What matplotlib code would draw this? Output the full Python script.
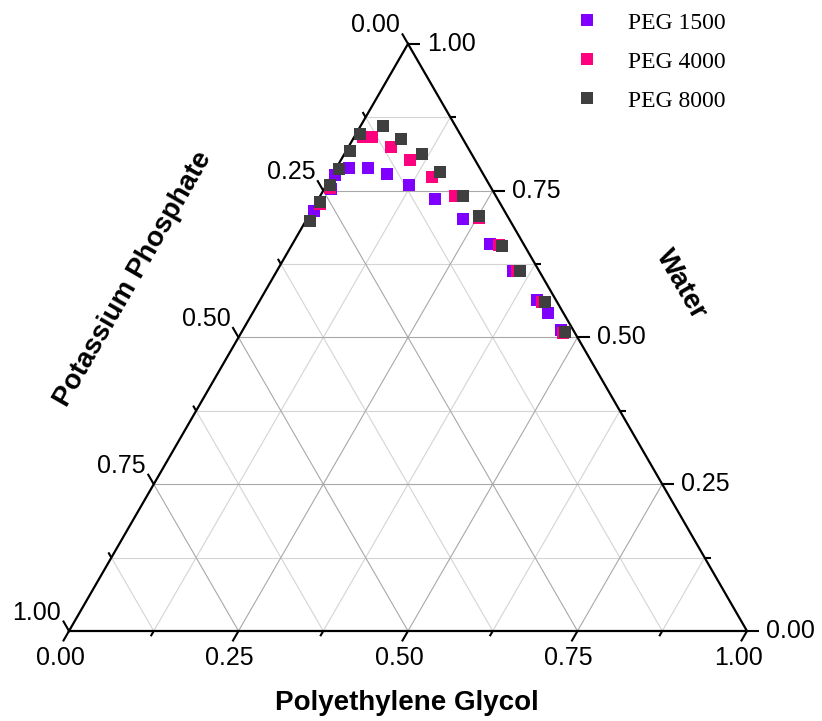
import numpy as np
import matplotlib
matplotlib.use("Agg")
import matplotlib.pyplot as plt
from matplotlib.lines import Line2D

# Binodal compositions (mass fractions).
# Potassium phosphate fraction is 1 - PEG - water.
peg1500_peg = [0.004, 0.010, 0.004, 0.019, 0.046, 0.079, 0.122, 0.173, 0.230, 0.292,
               0.348, 0.408, 0.436, 0.470]
peg1500_water = [0.716, 0.752, 0.777, 0.789, 0.789, 0.779, 0.759, 0.735, 0.701, 0.659,
                 0.613, 0.564, 0.541, 0.512]

peg4000_peg = [0.007, 0.008, 0.013, 0.027, 0.063, 0.102, 0.149, 0.199, 0.253, 0.306,
               0.354, 0.417, 0.475]
peg4000_water = [0.727, 0.755, 0.842, 0.841, 0.825, 0.802, 0.774, 0.740, 0.703, 0.657,
                 0.613, 0.561, 0.508]

peg8000_peg = [0.006, 0.005, 0.005, 0.005, 0.006, 0.006, 0.033, 0.070, 0.114, 0.157,
               0.211, 0.252, 0.311, 0.359, 0.422, 0.476]
peg8000_water = [0.698, 0.730, 0.759, 0.787, 0.817, 0.847, 0.860, 0.838, 0.812, 0.781,
                 0.741, 0.706, 0.656, 0.613, 0.560, 0.510]

series = [("PEG 1500", peg1500_peg, peg1500_water, "#8000ff"),
          ("PEG 4000", peg4000_peg, peg4000_water, "#ff007f"),
          ("PEG 8000", peg8000_peg, peg8000_water, "#3f3f3f")]

H = np.sqrt(3) / 2
PX = 678.0          # pixels per unit side length
SANS = "Liberation Sans"
SERIF = "Liberation Serif"


def tern(peg, water):
    """PEG on the base (left->right), water on the right edge (bottom->top)."""
    peg = np.asarray(peg, float); water = np.asarray(water, float)
    return peg + 0.5 * water, H * water


fig = plt.figure(figsize=(8.22, 7.21), dpi=100)
ax = fig.add_axes([0, 0, 1, 1])
ax.set_xlim(-69 / PX, (822 - 69) / PX)
ax.set_ylim(-(721 - 631) / PX, 631 / PX)
ax.axis("off")

# ---- grid --------------------------------------------------------------------------------
for k in range(1, 8):
    v = k / 8
    col, z = ("#a8a8a8", 1.2) if k % 2 == 0 else ("#d4d4d4", 1.0)
    kw = dict(color=col, lw=0.8, zorder=z)
    # constant PEG
    ax.plot([v, v + 0.5 * (1 - v)], [0, H * (1 - v)], **kw)
    # constant water
    ax.plot([0.5 * v, 1 - 0.5 * v], [H * v, H * v], **kw)
    # constant phosphate
    ax.plot([0.5 * (1 - v), 1 - v], [H * (1 - v), 0], **kw)

# ---- frame -------------------------------------------------------------------------------
ax.plot([0, 1, 0.5, 0], [0, 0, H, 0], color="black", lw=1.6, zorder=3,
        solid_joinstyle="miter")

# ---- ticks + labels ----------------------------------------------------------------------
for k in range(9):
    v = k / 8
    major = k % 2 == 0
    L = (12 if major else 6) / PX
    tk = dict(color="black", lw=1.5, zorder=3, solid_capstyle="butt")
    lab = f"{v:.2f}"
    # bottom: PEG, ticks down-left
    x0, y0 = v, 0.0
    x1, y1 = x0 - 0.5 * L, y0 - H * L
    ax.plot([x0, x1], [y0, y1], **tk)
    if major:
        ax.text(x1 - 3 / PX, y1 - 5 / PX, lab, ha="center", va="top",
                fontsize=18, family=SANS)
    # right: water, ticks to the right
    x0, y0 = 1 - 0.5 * v, H * v
    x1, y1 = x0 + L, y0
    ax.plot([x0, x1], [y0, y1], **tk)
    if major:
        ax.text(x1 + 7 / PX, y1, lab, ha="left", va="center", fontsize=18, family=SANS)
    # left: potassium phosphate, ticks up-left
    x0, y0 = 0.5 * (1 - v), H * (1 - v)
    x1, y1 = x0 - 0.5 * L, y0 + H * L
    ax.plot([x0, x1], [y0, y1], **tk)
    if major:
        ax.text(x1 - 2 / PX, y1 - 4 / PX, lab, ha="right", va="bottom",
                fontsize=18, family=SANS)

# ---- axis titles -------------------------------------------------------------------------
ax.text((407 - 69) / PX, (631 - 703) / PX, "Polyethylene Glycol", ha="center", va="center",
        fontsize=20, fontweight="bold", family=SANS)
ax.text((681 - 69) / PX, (631 - 284) / PX, "Water", ha="center", va="center",
        rotation=-60, rotation_mode="anchor", fontsize=20, fontweight="bold", family=SANS)
ax.text((133 - 69) / PX, (631 - 279) / PX, "Potassium Phosphate", ha="center", va="center",
        rotation=60, rotation_mode="anchor", fontsize=20, fontweight="bold", family=SANS)

# ---- data --------------------------------------------------------------------------------
handles = []
for name, p, w, c in series:
    x, y = tern(p, w)
    ax.plot(x, y, "s", ms=8.3, color=c, mew=0, zorder=5, clip_on=False)
    handles.append(Line2D([], [], ls="none", marker="s", ms=8.5, color=c, mew=0, label=name))

ax.legend(handles=handles, loc="upper left", bbox_to_anchor=(575 / 822, 1 - 12 / 721),
          bbox_transform=fig.transFigure, frameon=False, borderpad=0, borderaxespad=0,
          handlelength=1.0, handletextpad=1.25, labelspacing=0.74,
          prop={"family": SERIF, "size": 17})

fig.savefig("out.png", dpi=100)
